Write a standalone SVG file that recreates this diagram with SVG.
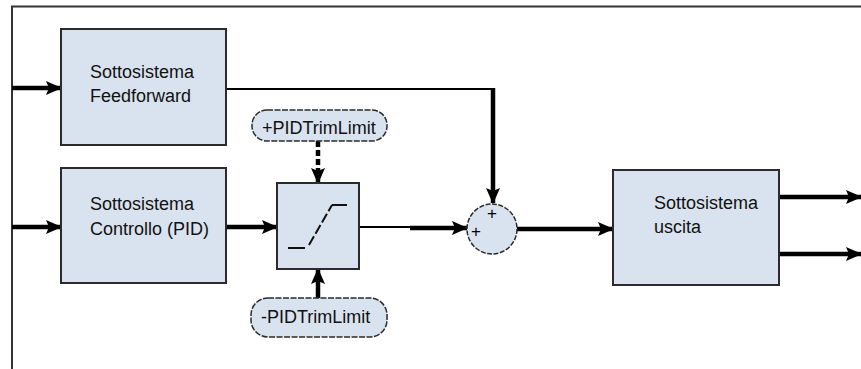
<svg xmlns="http://www.w3.org/2000/svg" width="861" height="369" viewBox="0 0 861 369">
<style>
.box{fill:#d9e3ef;stroke:#2b2b2b;stroke-width:2}
.pill{fill:#d9e3ef;stroke:#2b2b2b;stroke-width:1.5;stroke-dasharray:6 1.5}
.t{font-family:"Liberation Sans",Arial,sans-serif;font-size:18px;fill:#111}
.w{stroke:#000;stroke-width:4.5;fill:none}
.thin{stroke:#000;stroke-width:2;fill:none}
</style>
<defs>
<marker id="ah" markerUnits="userSpaceOnUse" markerWidth="16" markerHeight="14" refX="15" refY="7" orient="auto">
<path d="M0,0 L16,7 L0,14 L3,7 Z" fill="#000"/>
</marker>
</defs>
<rect width="861" height="369" fill="#fff"/>
<path d="M12,369 V6.5 H861" stroke="#333" stroke-width="2" fill="none"/>
<g id="connectors">
<path class="w" d="M12,88 H61" marker-end="url(#ah)"/>
<path class="w" d="M12,227 H61" marker-end="url(#ah)"/>
<path class="w" d="M226,227 H277" marker-end="url(#ah)"/>
<path class="thin" d="M226,89 H493"/>
<path class="w" d="M493,88 V203" marker-end="url(#ah)"/>
<path class="thin" d="M359,227 H410"/>
<path class="w" d="M410,228 H467" marker-end="url(#ah)"/>
<path class="w" d="M517,229 H613" marker-end="url(#ah)"/>
<path class="w" d="M318,141 V183" stroke-dasharray="6 3" marker-end="url(#ah)"/>
<path class="w" d="M318,298 V269" marker-end="url(#ah)"/>
<path class="w" d="M779,197 H861" marker-end="url(#ah)"/>
<path class="w" d="M779,254 H861" marker-end="url(#ah)"/>
</g>
<g id="feedforward">
<rect class="box" x="61" y="29" width="165" height="116"/>
<text class="t" x="90" y="78">Sottosistema</text>
<text class="t" x="90" y="102">Feedforward</text>
</g>
<g id="pid">
<rect class="box" x="61" y="168" width="165" height="115"/>
<text class="t" x="90" y="210">Sottosistema</text>
<text class="t" x="90" y="235">Controllo (PID)</text>
</g>
<g id="limiter">
<rect class="box" x="277" y="183" width="82" height="86"/>
<path d="M288,248 H305 M332,205 H347" stroke="#111" stroke-width="2" fill="none"/>
<path d="M309,245 L332,205" stroke="#111" stroke-width="2" fill="none" stroke-dasharray="10 3"/>
</g>
<g id="plus-limit">
<rect class="pill" x="252" y="110" width="135" height="31" rx="15" ry="15"/>
<text class="t" x="262" y="134">+PIDTrimLimit</text>
</g>
<g id="minus-limit">
<rect class="pill" x="251" y="298" width="136" height="39" rx="17" ry="17"/>
<text class="t" x="261" y="323">-PIDTrimLimit</text>
</g>
<g id="sum">
<circle cx="492" cy="229" r="25" fill="#d9e3ef" stroke="#2b2b2b" stroke-width="1.5" stroke-dasharray="5 1.5"/>
<text x="492" y="219" font-family="Liberation Sans,Arial,sans-serif" font-size="17" text-anchor="middle" fill="#000">+</text>
<text x="476" y="237" font-family="Liberation Sans,Arial,sans-serif" font-size="17" text-anchor="middle" fill="#000">+</text>
</g>
<g id="output">
<rect class="box" x="613" y="170" width="166" height="115"/>
<text class="t" x="654" y="209">Sottosistema</text>
<text class="t" x="654" y="233">uscita</text>
</g>
</svg>
